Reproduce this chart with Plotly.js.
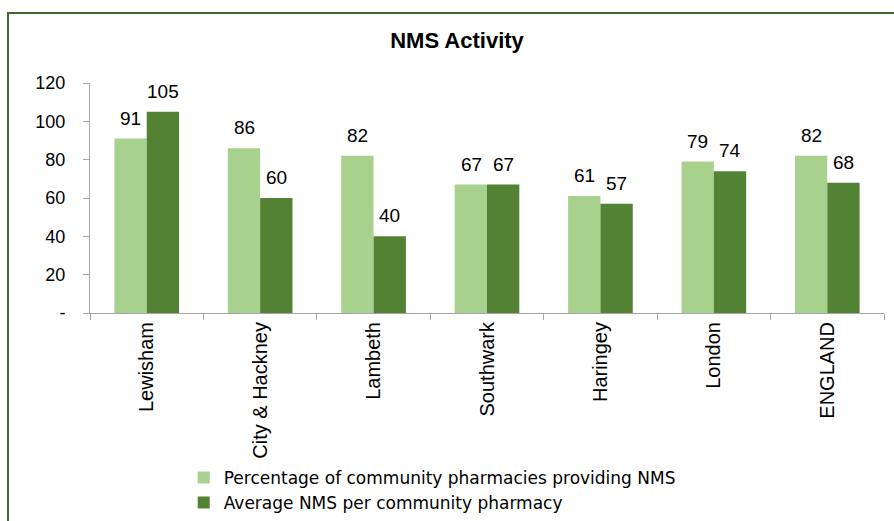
<!DOCTYPE html>
<html>
<head>
<meta charset="utf-8">
<script src="https://cdn.plot.ly/plotly-3.0.1.min.js"></script>
<style>
  html, body { margin: 0; padding: 0; background: #fff; }
  #wrap { position: relative; width: 894px; height: 521px; overflow: hidden; }
  #chart { width: 894px; height: 521px; }
  #frame { position: absolute; left: 7px; top: 12px; width: 900px; height: 520px;
           border-left: 2px solid #3f6a2c; border-top: 2px solid #3f6a2c; pointer-events: none; }
</style>
</head>
<body>
<div id="wrap">
  <div id="chart"></div>
  <div id="frame"></div>
</div>
<script>
const categories = ["Lewisham", "City & Hackney", "Lambeth", "Southwark", "Haringey", "London", "ENGLAND"];
const pctProviding = [91, 86, 82, 67, 61, 79, 82];
const avgNMS = [105, 60, 40, 67, 57, 74, 68];
const seriesNames = ["Percentage of community pharmacies providing NMS", "Average NMS per community pharmacy"];
const yTickVals = [0, 20, 40, 60, 80, 100, 120];
const yTickText = ["-", "20", "40", "60", "80", "100", "120"];

const font = "Liberation Sans, Arial, sans-serif";
const legendFont = "DejaVu Sans, Liberation Sans, sans-serif";
const colors = ["#a9d18e", "#548235"];
const seriesVals = [pctProviding, avgNMS];

const traces = seriesVals.map((vals, i) => ({
  type: "bar", x: categories, y: vals, name: seriesNames[i],
  marker: { color: colors[i] }, hoverinfo: "y"
}));

// value labels above each bar, placed via the axes' data coordinates
const annotations = [];
seriesVals.forEach((vals, i) => {
  vals.forEach((v, j) => {
    annotations.push({
      x: categories[j], y: v, xref: "x", yref: "y",
      text: String(v), showarrow: false,
      xanchor: "center", yanchor: "bottom",
      xshift: i === 0 ? -16 : 16, yshift: 8,
      font: { family: font, size: 19, color: "#000" }
    });
  });
});

const layout = {
  width: 894, height: 521,
  margin: { l: 90, r: 10, t: 83, b: 208, autoexpand: false },
  paper_bgcolor: "#fff", plot_bgcolor: "#fff",
  font: { family: font, color: "#000" },
  title: { text: "<b>NMS Activity</b>", x: 457 / 894, xanchor: "center", y: 1 - 40 / 521, yanchor: "middle",
           font: { family: font, size: 22, color: "#000" } },
  barmode: "group", bargap: 0.43, bargroupgap: 0,
  xaxis: { tickangle: -90, tickfont: { family: font, size: 20, color: "#000" },
           showline: true, linecolor: "#a6a6a6", linewidth: 1,
           ticks: "outside", tickson: "boundaries", ticklen: 6, tickcolor: "#a6a6a6",
           showgrid: false, fixedrange: true, automargin: false },
  yaxis: { range: [0, 120], tickvals: yTickVals, ticktext: yTickText,
           tickfont: { family: font, size: 18, color: "#000" },
           showline: true, linecolor: "#a6a6a6", linewidth: 1,
           ticks: "outside", ticklen: 6, tickcolor: "#a6a6a6", showgrid: false, zeroline: false,
           ticklabelstandoff: 14, fixedrange: true, automargin: false },
  annotations: annotations,
  showlegend: true,
  legend: { orientation: "v", x: 0.118, xanchor: "left", y: -0.639, yanchor: "top",
            font: { family: legendFont, size: 17, color: "#000" }, bgcolor: "rgba(0,0,0,0)" }
};

Plotly.newPlot("chart", traces, layout, { displayModeBar: false, staticPlot: true });
</script>
</body>
</html>
